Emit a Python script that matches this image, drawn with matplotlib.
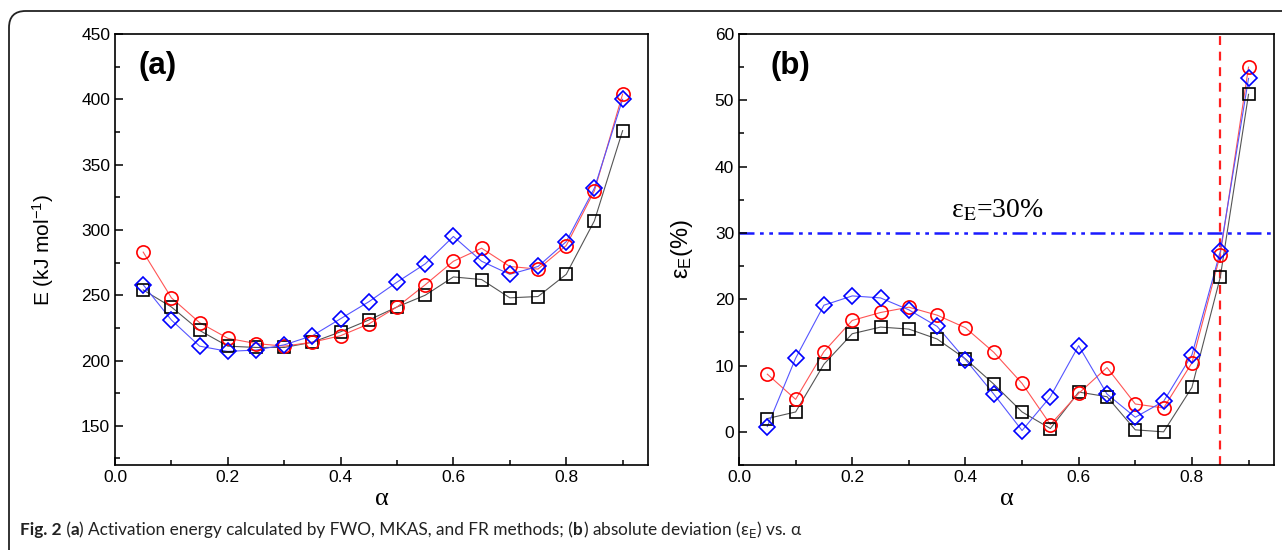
import matplotlib
matplotlib.use("Agg")
import matplotlib.pyplot as plt
from matplotlib.patches import FancyBboxPatch
from matplotlib.offsetbox import TextArea, HPacker, AnchoredOffsetbox
from matplotlib.ticker import MultipleLocator

plt.rcParams['font.family'] = ['Liberation Sans', 'DejaVu Sans']
plt.rcParams['mathtext.fontset'] = 'custom'
plt.rcParams['mathtext.rm'] = 'Liberation Sans'
plt.rcParams['mathtext.it'] = 'Liberation Sans:italic'

# ---- data ----
alpha = [0.05, 0.10, 0.15, 0.20, 0.25, 0.30, 0.35, 0.40, 0.45,
         0.50, 0.55, 0.60, 0.65, 0.70, 0.75, 0.80, 0.85, 0.90]

E_square = [254, 241, 223, 211, 210, 210, 214, 222, 231,
            241, 250, 264, 262, 248, 249, 266, 307, 376]
E_circle = [283, 248, 229, 217, 213, 211, 214, 219, 228,
            241, 258, 276, 286, 272, 270, 288, 330, 404]
E_diamond = [258, 231, 211, 207, 208, 212, 219, 232, 245,
             260, 274, 295, 276, 266, 272, 291, 332, 400]

eps_square = [2.0, 3.0, 10.2, 14.8, 15.8, 15.5, 14.0, 11.0, 7.2,
              3.0, 0.5, 6.0, 5.3, 0.3, 0.0, 6.7, 23.3, 50.9]
eps_circle = [8.7, 4.9, 12.1, 16.8, 18.0, 18.8, 17.6, 15.7, 12.0,
              7.3, 1.1, 5.8, 9.7, 4.2, 3.6, 10.4, 26.7, 55.0]
eps_diamond = [0.8, 11.1, 19.1, 20.5, 20.2, 18.4, 15.9, 10.9, 5.7,
               0.2, 5.3, 13.0, 5.7, 2.2, 4.6, 11.6, 27.2, 53.3]

eps_limit = 30
alpha_limit = 0.85

W, H = 1282, 550
fig = plt.figure(figsize=(W / 100, H / 100), dpi=100)

# rounded frame around the figure
frame = FancyBboxPatch((9 / W, -0.2), 1.2, (H - 11) / H + 0.2,
                       boxstyle="round,pad=0,rounding_size=0.013",
                       transform=fig.transFigure, fill=False,
                       edgecolor='#222222', linewidth=1.3, mutation_aspect=W / H)
fig.patches.append(frame)


def px_rect(l, t, r, b):
    return [l / W, 1 - b / H, (r - l) / W, (b - t) / H]


ax1 = fig.add_axes(px_rect(115, 34, 648, 465))
ax2 = fig.add_axes(px_rect(739, 34, 1274, 465))

series = [
    ('s', 'black', '#555555', 9.0),
    ('o', 'red', '#ff5555', 9.5),
    ('D', 'blue', '#5555ff', 8.0),
]


def style(ax):
    for sp in ax.spines.values():
        sp.set_linewidth(1.2)
    ax.tick_params(which='both', direction='in', top=False, right=False,
                   labelsize=12.5, width=1.1)
    ax.tick_params(which='major', length=6)
    ax.tick_params(which='minor', length=3.5)
    ax.set_xlim(0, 0.945)
    ax.xaxis.set_major_locator(MultipleLocator(0.2))
    ax.xaxis.set_minor_locator(MultipleLocator(0.1))
    ax.xaxis.set_major_formatter(matplotlib.ticker.FormatStrFormatter('%.1f'))
    ax.set_xlabel('α', fontsize=19, family='Liberation Serif', labelpad=2)


for ax, data in ((ax1, (E_square, E_circle, E_diamond)),
                 (ax2, (eps_square, eps_circle, eps_diamond))):
    for (m, mc, lc, ms), y in zip(series, data):
        ax.plot(alpha, y, color=lc, linewidth=0.8, zorder=2)
        ax.plot(alpha, y, linestyle='none', marker=m, markersize=ms,
                markerfacecolor='none', markeredgecolor=mc,
                markeredgewidth=1.2, zorder=3)
    style(ax)

ax1.set_ylim(120, 450)
ax1.yaxis.set_major_locator(MultipleLocator(50))
ax1.yaxis.set_minor_locator(MultipleLocator(25))
ax1.set_ylabel('E (kJ mol$^{-1}$)', fontsize=15, labelpad=18)
ax1.text(0.045, 0.925, '(a)', transform=ax1.transAxes, fontsize=22.5,
         fontweight='bold', va='center', ha='left')

ax2.set_ylim(-5, 60)
ax2.yaxis.set_major_locator(MultipleLocator(10))
ax2.yaxis.set_minor_locator(MultipleLocator(5))
ax2.set_ylabel('ε$_\\mathrm{E}$(%)', fontsize=17, labelpad=14)
ax2.text(0.058, 0.925, '(b)', transform=ax2.transAxes, fontsize=22.5,
         fontweight='bold', va='center', ha='left')

ax2.axhline(eps_limit, color='#1a1aff', linewidth=1.8,
            dashes=(6, 2.2, 1.5, 2.2, 1.5, 2.2), zorder=1)
ax2.axvline(alpha_limit, color='#ff2020', linewidth=1.6, dashes=(4, 3), zorder=1)
ax2.text(0.375, eps_limit + 3.3, 'ε$_\\mathrm{E}$=30%', fontsize=20,
         family='Liberation Serif', math_fontfamily='stix', ha='left', va='center')

# caption
cap_font = 'Lato'
cs = 12.4
parts = [
    ('Fig. 2', 'bold'), (' (', 'normal'), ('a', 'bold'),
    (') Activation energy calculated by FWO, MKAS, and FR methods; (', 'normal'),
    ('b', 'bold'), (') absolute deviation (ε$_\\mathrm{E}$) vs. α', 'normal'),
]
areas = [TextArea(t, textprops=dict(family=[cap_font, 'DejaVu Sans'], fontsize=cs,
                                    fontweight=w, math_fontfamily='dejavusans',
                                    color='#222222'))
         for t, w in parts]
pack = HPacker(children=areas, align='baseline', pad=0, sep=0)
ab = AnchoredOffsetbox(loc='lower left', child=pack, pad=0, frameon=False,
                       bbox_to_anchor=(20 / W, 10 / H),
                       bbox_transform=fig.transFigure, borderpad=0)
fig.add_artist(ab)

fig.savefig('out.png', dpi=100)
